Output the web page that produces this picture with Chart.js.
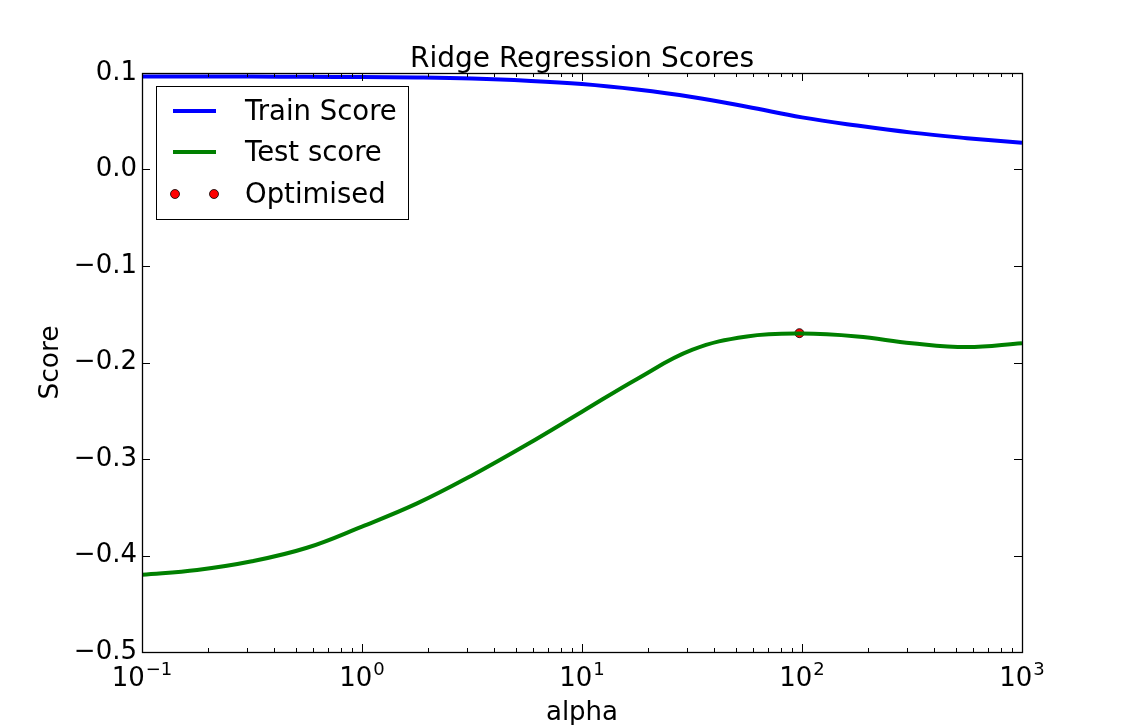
<!DOCTYPE html>
<html>
<head>
<meta charset="utf-8">
<script src="https://cdn.jsdelivr.net/npm/chart.js@4"></script>
<style>
html,body{margin:0;padding:0;background:#fff;}
#wrap{width:1136px;height:725px;position:relative;}
</style>
</head>
<body>
<div id="wrap"><canvas id="c"></canvas></div>
<script>
// ---- data ----
const alphas = [0.1, 0.178, 0.316, 0.562, 1, 1.78, 3.16, 5.62, 10, 17.8, 31.6, 56.2, 100, 178, 316, 562, 1000];
const trainScores = [0.0965, 0.0964, 0.0963, 0.0961, 0.0958, 0.0953, 0.0942, 0.0920, 0.0885, 0.0828, 0.0752, 0.0651, 0.0540, 0.0455, 0.0382, 0.0325, 0.0276];
const testScores = [-0.420, -0.415, -0.406, -0.392, -0.370, -0.346, -0.317, -0.285, -0.251, -0.217, -0.187, -0.173, -0.170, -0.173, -0.180, -0.184, -0.180];
const optimisedAlpha = [97.3];
const optimisedScore = [-0.1696];
const seriesNames = ['Train Score', 'Test score', 'Optimised'];
const chartTitle = 'Ridge Regression Scores';
const xAxisTitle = 'alpha';
const yAxisTitle = 'Score';
const xTickValues = [0.1, 1, 10, 100, 1000];
const xTickBase = '10';
const xTickExponents = ['\u22121', '0', '1', '2', '3'];
const yTickValues = [-0.5, -0.4, -0.3, -0.2, -0.1, 0.0, 0.1];
const yTickLabels = ['\u22120.5', '\u22120.4', '\u22120.3', '\u22120.2', '\u22120.1', '0.0', '0.1'];

const FONT = 'DejaVu Sans';
Chart.defaults.font.family = FONT;
Chart.defaults.color = '#000';

const toXY = (xs, ys) => xs.map((x, i) => ({x: x, y: ys[i]}));

const framePlugin = {
  id: 'frame',
  afterDatasetsDraw(chart) {
    const {ctx, chartArea: a, scales: {x, y}} = chart;
    ctx.save();
    ctx.strokeStyle = '#000';
    ctx.lineWidth = 1;
    ctx.beginPath();
    yTickValues.forEach(v => {
      const py = Math.round(y.getPixelForValue(v)) + 0.5;
      ctx.moveTo(a.left, py); ctx.lineTo(a.left + 8, py);
      ctx.moveTo(a.right, py); ctx.lineTo(a.right - 8, py);
    });
    for (let k = -1; k <= 3; k++) {
      for (let m = 1; m <= 9; m++) {
        const v = m * Math.pow(10, k);
        if (v > 1000.0001) break;
        const px = Math.round(x.getPixelForValue(v)) + 0.5;
        const len = (m === 1) ? 8 : 4;
        ctx.moveTo(px, a.bottom); ctx.lineTo(px, a.bottom - len);
        ctx.moveTo(px, a.top); ctx.lineTo(px, a.top + len);
      }
    }
    ctx.stroke();
    ctx.lineWidth = 1.3;
    ctx.strokeRect(Math.round(a.left) + 0.5, Math.round(a.top) + 0.5, Math.round(a.right - a.left), Math.round(a.bottom - a.top));
    ctx.restore();
  },
  afterDraw(chart) {
    const {ctx, chartArea: a, scales: {x}} = chart;
    const ds = chart.data.datasets;
    ctx.save();
    // title centred over the axes
    ctx.fillStyle = '#000';
    ctx.font = '28px "' + FONT + '"';
    ctx.textAlign = 'center';
    ctx.textBaseline = 'alphabetic';
    ctx.fillText(chartTitle, (a.left + a.right) / 2, a.top - 6);

    // x tick labels: 10 with raised exponent
    ctx.textAlign = 'left';
    xTickValues.forEach((v, i) => {
      const px = x.getPixelForValue(v);
      ctx.font = '26px "' + FONT + '"';
      const w1 = ctx.measureText(xTickBase).width;
      ctx.font = '18px "' + FONT + '"';
      const w2 = ctx.measureText(xTickExponents[i]).width;
      const sx = px - (w1 + w2 + 1) / 2;
      ctx.font = '26px "' + FONT + '"';
      ctx.fillText(xTickBase, sx, a.bottom + 34);
      ctx.font = '18px "' + FONT + '"';
      ctx.fillText(xTickExponents[i], sx + w1 + 1, a.bottom + 23);
    });

    // legend box inside the axes (upper left)
    const bx = a.left + 14, by = a.top + 13, bw = 252, bh = 133;
    ctx.fillStyle = '#fff';
    ctx.fillRect(bx, by, bw, bh);
    ctx.strokeStyle = '#000';
    ctx.lineWidth = 1;
    ctx.strokeRect(bx + 0.5, by + 0.5, bw, bh);
    const rows = [by + 25, by + 66, by + 108];
    ctx.font = '27.5px "' + FONT + '"';
    ctx.textBaseline = 'middle';
    ctx.textAlign = 'left';
    for (let i = 0; i < 3; i++) {
      const ry = rows[i];
      if (i < 2) {
        ctx.strokeStyle = ds[i].borderColor;
        ctx.lineWidth = 4;
        ctx.beginPath();
        ctx.moveTo(bx + 17, ry); ctx.lineTo(bx + 60, ry);
        ctx.stroke();
      } else {
        [bx + 19, bx + 58].forEach(cx => {
          ctx.beginPath();
          ctx.arc(cx, ry, 4.5, 0, Math.PI * 2);
          ctx.fillStyle = ds[2].pointBackgroundColor;
          ctx.fill();
          ctx.strokeStyle = '#000';
          ctx.lineWidth = 0.8;
          ctx.stroke();
        });
      }
      ctx.fillStyle = '#000';
      ctx.fillText(seriesNames[i], bx + 89, ry + 2);
    }
    ctx.restore();
  }
};

new Chart(document.getElementById('c'), {
  type: 'line',
  data: {
    datasets: [
      {label: seriesNames[0], data: toXY(alphas, trainScores), borderColor: '#0000ff', backgroundColor: '#0000ff', borderWidth: 4, pointRadius: 0, tension: 0.4, fill: false},
      {label: seriesNames[1], data: toXY(alphas, testScores), borderColor: '#008000', backgroundColor: '#008000', borderWidth: 4, pointRadius: 0, tension: 0.4, fill: false},
      {label: seriesNames[2], data: toXY(optimisedAlpha, optimisedScore), showLine: false, borderColor: '#000000', backgroundColor: '#ff0000', pointRadius: 4.5, pointBorderWidth: 0.8, pointBorderColor: '#000', pointBackgroundColor: '#ff0000'}
    ]
  },
  options: {
    responsive: true,
    maintainAspectRatio: false,
    devicePixelRatio: 1,
    animation: false,
    layout: {padding: {left: 0, right: 114, top: 73, bottom: 0}},
    plugins: {
      legend: {display: false},
      tooltip: {enabled: false},
      title: {display: false}
    },
    scales: {
      x: {
        type: 'logarithmic',
        min: 0.1, max: 1000,
        afterBuildTicks: s => { s.ticks = xTickValues.map(v => ({value: v})); },
        afterFit: s => { s.height = 73; },
        grid: {display: false, drawTicks: false},
        border: {display: false},
        ticks: {display: false},
        title: {display: true, text: xAxisTitle, font: {size: 26, lineHeight: 0.9}, padding: {top: 0, bottom: 0}}
      },
      y: {
        type: 'linear',
        min: -0.5, max: 0.1,
        afterBuildTicks: s => { s.ticks = yTickValues.map(v => ({value: v})); },
        afterFit: s => { s.width = 142; },
        grid: {display: false, drawTicks: false},
        border: {display: false},
        ticks: {
          autoSkip: false, padding: 5,
          font: {size: 26},
          callback: function(v) { const i = yTickValues.findIndex(t => Math.abs(t - v) < 1e-9); return i >= 0 ? yTickLabels[i] : ''; }
        },
        title: {display: true, text: yAxisTitle, font: {size: 26.5}, padding: {top: 35, bottom: 0}}
      }
    }
  },
  plugins: [framePlugin]
});
</script>
</body>
</html>
